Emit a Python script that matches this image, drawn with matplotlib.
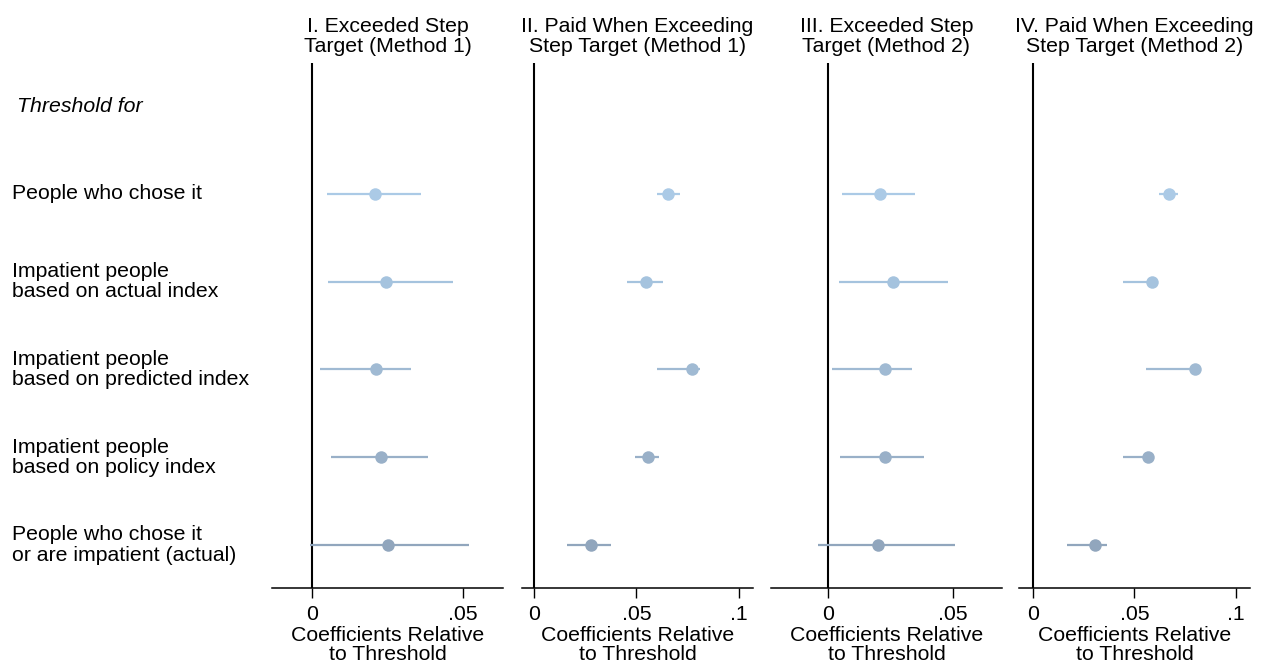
import numpy as np
import matplotlib
matplotlib.use("Agg")
import matplotlib.pyplot as plt
import matplotlib.transforms as mtransforms

plt.rcParams['font.family'] = ['Liberation Sans', 'DejaVu Sans']

"""Row labels and panel titles"""
rows = ["People who chose it",
        "Impatient people\nbased on actual index",
        "Impatient people\nbased on predicted index",
        "Impatient people\nbased on policy index",
        "People who chose it\nor are impatient (actual)"]
titles = ["I. Exceeded Step\nTarget (Method 1)",
          "II. Paid When Exceeding\nStep Target (Method 1)",
          "III. Exceeded Step\nTarget (Method 2)",
          "IV. Paid When Exceeding\nStep Target (Method 2)"]

"""Coefficients and confidence bounds, one list per panel"""
coef_1 = [0.0210, 0.0245, 0.0212, 0.0227, 0.0251]
lo_1 = [0.0051, 0.0053, 0.0027, 0.0062, -0.0007]
hi_1 = [0.0360, 0.0466, 0.0327, 0.0385, 0.0519]

coef_2 = [0.0654, 0.0546, 0.0774, 0.0558, 0.0280]
lo_2 = [0.0602, 0.0455, 0.0603, 0.0493, 0.0163]
hi_2 = [0.0711, 0.0629, 0.0813, 0.0611, 0.0377]

coef_3 = [0.0208, 0.0261, 0.0227, 0.0227, 0.0201]
lo_3 = [0.0057, 0.0044, 0.0017, 0.0049, -0.0041]
hi_3 = [0.0349, 0.0479, 0.0336, 0.0385, 0.0508]

coef_4 = [0.0672, 0.0588, 0.0797, 0.0565, 0.0305]
lo_4 = [0.0623, 0.0446, 0.0559, 0.0443, 0.0167]
hi_4 = [0.0716, 0.0605, 0.0810, 0.0580, 0.0366]

ticks_short = [0, 0.05]
ticks_long = [0, 0.05, 0.1]
tick_labels_short = ["0", ".05"]
tick_labels_long = ["0", ".05", ".1"]

colors = ['#abcae6', '#a5c3de', '#a0bad3', '#99b0c8', '#91a6bd']

panels = [(coef_1, lo_1, hi_1, (-0.0132, 0.0632), ticks_short, tick_labels_short),
          (coef_2, lo_2, hi_2, (-0.0059, 0.107), ticks_long, tick_labels_long),
          (coef_3, lo_3, hi_3, (-0.0228, 0.0696), ticks_short, tick_labels_short),
          (coef_4, lo_4, hi_4, (-0.0069, 0.107), ticks_long, tick_labels_long)]

lefts = [272, 522, 771, 1019]
W, H = 1281, 667
fs = 15.3

fig = plt.figure(figsize=(W / 100, H / 100), dpi=100)
ypos = np.arange(1, len(rows) + 1)

axes = []
for i, (coef, lo, hi, xlim, ticks, tlabels) in enumerate(panels):
    ax = fig.add_axes([lefts[i] / W, 1 - 588 / H, 231 / W, 525 / H])
    axes.append(ax)
    ax.axvline(0, color='black', lw=1.5, zorder=1)
    for j in range(len(rows)):
        ax.plot([lo[j], hi[j]], [ypos[j], ypos[j]], color=colors[j], lw=1.6,
                solid_capstyle='butt', zorder=2)
        ax.plot(coef[j], ypos[j], 'o', color=colors[j], markersize=9,
                markeredgewidth=0, zorder=3)
    ax.set_xlim(*xlim)
    ax.set_ylim(5.49, -0.49)
    ax.set_xticks(ticks)
    ax.set_xticklabels(tlabels, fontsize=fs)
    ax.tick_params(axis='x', length=7, width=1, pad=5)
    ax.set_yticks([])
    for s in ['top', 'right', 'left']:
        ax.spines[s].set_visible(False)
    ax.spines['bottom'].set_linewidth(1.1)
    ax.set_xlabel("Coefficients Relative\nto Threshold", fontsize=fs,
                  linespacing=1.0, labelpad=2)
    ax.set_title(titles[i], fontsize=fs, linespacing=1.08, pad=8)

"""Row labels on the left, placed in data coordinates of the first panel"""
trans = mtransforms.blended_transform_factory(fig.transFigure, axes[0].transData)
fig.text(17 / W, 0, "Threshold for", transform=trans, fontsize=fs,
         style='italic', ha='left', va='center')
for j, lab in enumerate(rows):
    fig.text(12 / W, ypos[j], lab, transform=trans, fontsize=fs,
             ha='left', va='center', linespacing=1.08)

fig.savefig("out.png", dpi=100)
